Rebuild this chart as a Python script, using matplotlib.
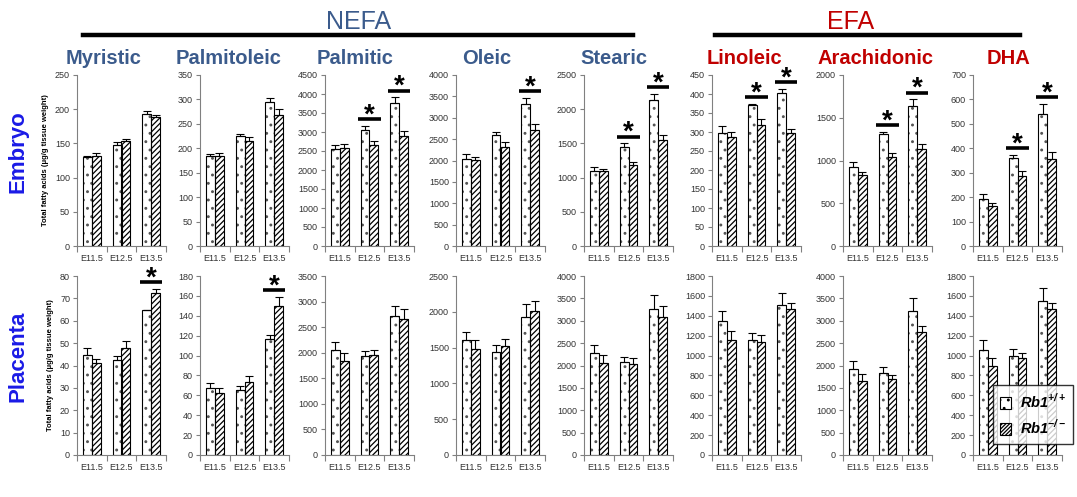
import matplotlib
matplotlib.use("Agg")
import matplotlib.pyplot as plt
import matplotlib.patches as mpatches
import numpy as np

plt.rcParams['font.family'] = ['Liberation Sans', 'DejaVu Sans']
plt.rcParams['mathtext.fontset'] = 'custom'
plt.rcParams['mathtext.bf'] = 'Liberation Sans:bold:italic'
plt.rcParams['mathtext.rm'] = 'Liberation Sans:bold:italic'
plt.rcParams['hatch.linewidth'] = 0.9

stages = ["E11.5", "E12.5", "E13.5"]
acids = ["Myristic", "Palmitoleic", "Palmitic", "Oleic", "Stearic", "Linoleic", "Arachidonic", "DHA"]
groups = ["NEFA"] * 5 + ["EFA"] * 3
series_labels = [r"$\mathbf{Rb1}^{\mathbf{+/+}}$", r"$\mathbf{Rb1}^{\mathbf{-/-}}$"]

# Embryo: wild type (+/+) and knockout (-/-) means and errors
embryo_wt = [[130, 148, 193], [184, 225, 294], [2550, 3050, 3760], [2040, 2600, 3310],
             [1090, 1450, 2140], [298, 371, 402], [920, 1305, 1635], [192, 360, 540]]
embryo_wt_err = [[1, 4, 4], [5, 4, 9], [100, 110, 150], [110, 70, 150],
                 [70, 50, 80], [17, 2, 12], [65, 25, 80], [20, 12, 40]]
embryo_ko = [[132, 153, 188], [184, 215, 269], [2580, 2650, 2890], [2010, 2320, 2720],
             [1090, 1180, 1550], [288, 318, 298], [830, 1040, 1140], [163, 288, 355]]
embryo_ko_err = [[4, 3, 3], [6, 8, 11], [100, 110, 130], [70, 110, 140],
                 [40, 50, 80], [13, 15, 10], [30, 50, 50], [12, 20, 30]]
embryo_ymax = [250, 350, 4500, 4000, 2500, 450, 2000, 700]
embryo_ystep = [50, 50, 500, 500, 500, 50, 500, 100]
embryo_stars = [[], [], [1, 2], [2], [1, 2], [1, 2], [1, 2], [1, 2]]

# Placenta
placenta_wt = [[44.7, 42.6, 64.7], [67, 65, 117], [2050, 1930, 2720], [1600, 1440, 1930],
               [2280, 2070, 3260], [1350, 1155, 1510], [1930, 1840, 3220], [1060, 1000, 1550]]
placenta_wt_err = [[3, 1.5, 0.3], [5, 4, 4], [150, 110, 200], [120, 100, 180],
                   [180, 130, 310], [100, 70, 120], [160, 120, 280], [95, 70, 130]]
placenta_ko = [[41.2, 47.8, 72.6], [62, 73, 150], [1830, 1950, 2660], [1480, 1520, 2010],
               [2050, 2040, 3080], [1155, 1140, 1470], [1660, 1690, 2750], [900, 980, 1470]]
placenta_ko_err = [[1.5, 3, 1.5], [5, 6, 9], [160, 110, 200], [120, 100, 140],
                   [180, 130, 250], [90, 65, 60], [140, 90, 130], [80, 50, 60]]
placenta_ymax = [80, 180, 3500, 2500, 4000, 1800, 4000, 1800]
placenta_ystep = [10, 20, 500, 500, 500, 200, 500, 200]
placenta_stars = [[2], [2], [], [], [], [], [], []]

W, H = 1077, 497
fig = plt.figure(figsize=(W / 100, H / 100), dpi=100)

lefts = [77, 200, 325, 456, 584, 712, 843, 973]
pw = 89
rows = [
    dict(top=75, bot=246, wt=embryo_wt, wte=embryo_wt_err, ko=embryo_ko, koe=embryo_ko_err,
         ymax=embryo_ymax, ystep=embryo_ystep, stars=embryo_stars, name="Embryo", ylab=152),
    dict(top=276, bot=455, wt=placenta_wt, wte=placenta_wt_err, ko=placenta_ko, koe=placenta_ko_err,
         ymax=placenta_ymax, ystep=placenta_ystep, stars=placenta_stars, name="Placenta", ylab=356),
]

axis_gray = "#808080"
dot_hatch = '..'
dot_color = '#555555'
line_hatch = '//////'
x = np.arange(len(stages))
bw = 0.3
for r, row in enumerate(rows):
    for j in range(len(acids)):
        ax = fig.add_axes([lefts[j] / W, 1 - row['bot'] / H, pw / W, (row['bot'] - row['top']) / H])
        wt, wte = row['wt'][j], row['wte'][j]
        ko, koe = row['ko'][j], row['koe'][j]
        # dotted bars: gray dots, black outline
        ax.bar(x - bw / 2, wt, bw, color='white', edgecolor=dot_color, hatch=dot_hatch, linewidth=0, zorder=2)
        ax.bar(x - bw / 2, wt, bw, fill=False, edgecolor='black', linewidth=0.8, zorder=2.1)
        ax.bar(x + bw / 2, ko, bw, color='white', edgecolor='black', hatch=line_hatch, linewidth=0.8, zorder=2)
        ax.errorbar(x - bw / 2, wt, yerr=[np.zeros(3), wte], fmt='none', ecolor='black',
                    elinewidth=0.8, capsize=3, capthick=0.8, zorder=3)
        ax.errorbar(x + bw / 2, ko, yerr=[np.zeros(3), koe], fmt='none', ecolor='black',
                    elinewidth=0.8, capsize=3, capthick=0.8, zorder=3)
        ymax = row['ymax'][j]
        ax.set_ylim(0, ymax)
        ax.set_xlim(-0.5, 2.5)
        ax.set_yticks(np.arange(0, ymax + 1e-9, row['ystep'][j]))
        ax.set_xticks([-0.5, 0.5, 1.5, 2.5])
        ax.set_xticklabels([])
        ax.set_xticks(x, minor=True)
        ax.set_xticklabels(stages, minor=True)
        ax.tick_params(axis='x', which='minor', length=0, labelsize=6.5, colors='#333333', pad=6)
        ax.tick_params(axis='x', which='major', length=4, direction='out', color=axis_gray)
        ax.tick_params(axis='y', length=3, direction='out', color=axis_gray, labelsize=6.5,
                       labelcolor='#333333', pad=2)
        for s in ['top', 'right']:
            ax.spines[s].set_visible(False)
        for s in ['left', 'bottom']:
            ax.spines[s].set_color(axis_gray)
            ax.spines[s].set_linewidth(0.8)
        for k in row['stars'][j]:
            top = max(wt[k] + wte[k], ko[k] + koe[k])
            ly = top + 0.04 * ymax
            ax.plot([k - 0.38, k + 0.38], [ly, ly], color='black', lw=2.6, clip_on=False,
                    solid_capstyle='butt', zorder=4)
            ax.annotate("*", (k, ly), xytext=(0, -2.5), textcoords='offset points',
                        ha='center', va='baseline', fontsize=20, fontweight='bold',
                        annotation_clip=False)
        if j == 0:
            ax.set_ylabel("Total fatty acids (μg/g tissue weight)", fontsize=5.5, fontweight='bold',
                          labelpad=4)
        if r == 1 and j == len(acids) - 1:
            h1 = mpatches.Patch(facecolor='white', edgecolor='black', hatch=dot_hatch, lw=0.8)
            h2 = mpatches.Patch(facecolor='white', edgecolor='black', hatch='/////////', lw=0.8)
            leg = ax.legend([h1, h2], series_labels, loc='lower left', bbox_to_anchor=(0.22, 0.06),
                            fontsize=10.5, frameon=True, fancybox=False, edgecolor='black',
                            handlelength=0.75, handleheight=0.95, borderpad=0.5, labelspacing=0.5,
                            handletextpad=0.6, borderaxespad=0)
            leg.get_frame().set_linewidth(1.0)
            leg.set_zorder(10)
    fig.text(18 / W, 1 - row['ylab'] / H, row['name'], rotation=90, ha='center', va='center',
             fontsize=16, fontweight='bold', color='#1a1ae6')

# Column titles
title_x = [104, 229, 355, 487, 614, 744, 875, 1008]
for j, a in enumerate(acids):
    col = '#3b5b8c' if groups[j] == "NEFA" else '#c00000'
    fig.text(title_x[j] / W, 1 - 58 / H, a, ha='center', va='center', fontsize=14.5,
             fontweight='bold', color=col)

# Group headers
fig.text(359 / W, 1 - 22 / H, "NEFA", ha='center', va='center', fontsize=18, color='#3b5b8c')
fig.text(851 / W, 1 - 22 / H, "EFA", ha='center', va='center', fontsize=18, color='#c00000')
fig.add_artist(plt.Line2D([83 / W, 633 / W], [1 - 35 / H, 1 - 35 / H], color='black', lw=3.2))
fig.add_artist(plt.Line2D([715 / W, 1020 / W], [1 - 35 / H, 1 - 35 / H], color='black', lw=3.2))

fig.savefig("out.png", dpi=100)
